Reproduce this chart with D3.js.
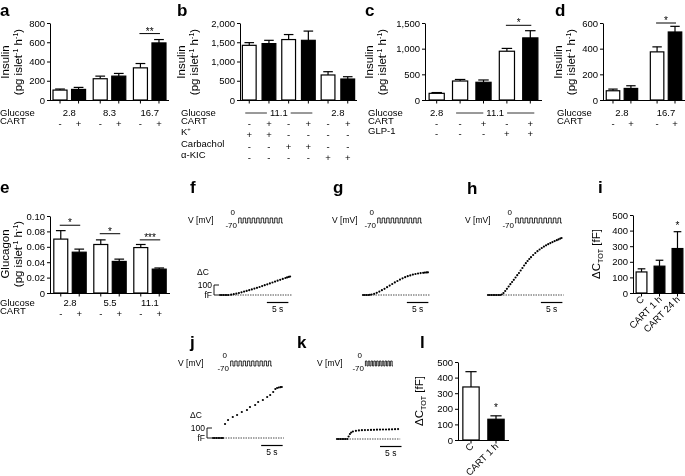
<!DOCTYPE html>
<html>
<head>
<meta charset="utf-8">
<script src="https://cdn.jsdelivr.net/npm/d3@7"></script>
<style>
  body { margin: 0; background: #fff; }
  svg { filter: grayscale(100%); }
  svg text { font-family: "Liberation Sans", Arial, Helvetica, sans-serif; fill: #000; }
</style>
</head>
<body>
<div id="chart"></div>
<script>
// ============
// Data
// ============

// a: insulin secretion, glucose x CART
var aGlucose = ["2.8", "2.8", "8.3", "8.3", "16.7", "16.7"];
var aCart = ["-", "+", "-", "+", "-", "+"];
var aInsulin = [103, 110, 221, 248, 334, 593];
var aErr = [11, 21, 27, 28, 45, 35];
var aTicks = [0, 200, 400, 600, 800];

// b: insulin with K+, carbachol, alpha-KIC
var bGlucose = ["11.1", "11.1", "11.1", "11.1", "2.8", "2.8"];
var bCart = ["-", "+", "-", "+", "-", "+"];
var bK = ["+", "+", "-", "-", "-", "-"];
var bCarbachol = ["-", "-", "+", "+", "-", "-"];
var bKic = ["-", "-", "-", "-", "+", "+"];
var bInsulin = [1420, 1465, 1570, 1550, 650, 545];
var bErr = [70, 85, 130, 240, 85, 60];
var bTicks = [0, 500, 1000, 1500, 2000];

// c: insulin with GLP-1
var cGlucose = ["2.8", "11.1", "11.1", "11.1", "11.1"];
var cCart = ["-", "-", "+", "-", "+"];
var cGlp = ["-", "-", "-", "+", "+"];
var cInsulin = [130, 370, 345, 950, 1210];
var cErr = [15, 30, 45, 55, 140];
var cTicks = [0, 500, 1000, 1500];

// d: insulin, second set
var dGlucose = ["2.8", "2.8", "16.7", "16.7"];
var dCart = ["-", "+", "-", "+"];
var dInsulin = [72, 90, 375, 530];
var dErr = [13, 21, 39, 44];
var dTicks = [0, 200, 400, 600];

// e: glucagon
var eGlucose = ["2.8", "2.8", "5.5", "5.5", "11.1", "11.1"];
var eCart = ["-", "+", "-", "+", "-", "+"];
var eGlucagon = [0.070, 0.053, 0.063, 0.041, 0.059, 0.031];
var eErr = [0.011, 0.004, 0.006, 0.003, 0.004, 0.0015];
var eTicks = [0, 0.02, 0.04, 0.06, 0.08, 0.10];

// i, l: total capacitance increase
var iLabels = ["C", "CART 1 h", "CART 24 h"];
var iCart = ["-", "+", "+"];
var iDc = [135, 172, 285];
var iErr = [20, 38, 108];
var lLabels = ["C", "CART 1 h"];
var lCart = ["-", "+"];
var lDc = [340, 133];
var lErr = [98, 22];
var dcTicks = [0, 100, 200, 300, 400, 500];

// significance bars: [first bar, last bar, value of line, stars]
var aSig = [[4, 5, 690, "**"]];
var cSig = [[3, 4, 1455, "*"]];
var dSig = [[2, 3, 600, "*"]];
var eSig = [[0, 1, 0.088, "*"], [2, 3, 0.077, "*"], [4, 5, 0.069, "***"]];
var iSig = [[2, 2, 415, "*"]];
var lSig = [[1, 1, 195, "*"]];

// capacitance traces: [time (s), dC (fF)]
var fTrace = [[0,0],[0.4,0],[0.8,0],[1.2,0],[1.6,0],[2,0],[2.6,3],[3.2,8],[3.8,14],[4.4,20],[5,27],
  [5.6,34],[6.2,41],[6.8,48],[7.4,56],[8,64],[8.6,72],[9.2,80],[9.8,89],[10.4,98],[11,107],[11.6,116],
  [12.2,125],[12.8,134],[13.4,143],[14,152],[14.6,161],[15.2,170],[15.6,176],[16,181],[16.3,185]];
var gTrace = [[0,0],[0.4,0],[0.8,0],[1.2,0],[1.6,2],[2,5],[2.6,12],[3.2,22],[3.8,34],[4.4,48],[5,62],
  [5.6,78],[6.2,94],[6.8,110],[7.4,126],[8,140],[8.6,154],[9.2,167],[9.8,178],[10.4,188],[11,196],
  [11.6,204],[12.2,210],[12.8,215],[13.4,219],[14,222],[14.4,224],[14.8,226],[15.1,227]];
var hTrace = [[0,0],[0.4,0],[0.8,0],[1.2,0],[1.6,0],[2,0],[2.4,0],[2.8,0],[3.2,5],[3.6,20],[4,40],
  [4.4,62],[4.8,85],[5.2,108],[5.6,130],[6,152],[6.4,175],[6.8,198],[7.2,220],[7.6,245],[8,270],
  [8.4,295],[8.8,318],[9.2,340],[9.6,360],[10,378],[10.5,400],[11,420],[11.5,438],[12,455],[12.5,470],
  [13,484],[13.5,497],[14,508],[14.5,519],[15,529],[15.5,539],[16,548],[16.4,556],[16.8,564],[17.1,570]];
var jTrace = [[0,0],[0.4,0],[0.8,0],[1.2,0],[1.6,0],[2,0],[2.3,0],[2.8,140],[3.5,180],[4.6,210],
  [5.6,230],[6.7,260],[7.9,280],[8.6,310],[9.8,330],[10.5,360],[11.6,380],[12.6,410],[13.3,430],
  [14,460],[14.5,490],[14.9,500],[15.3,505],[15.7,508],[16,510]];
var kTrace = [[0,0],[0.4,0],[0.8,0],[1.2,0],[1.6,0],[2,0],[2.4,0],[2.7,25],[3,50],[3.3,65],[3.7,75],
  [4.4,82],[5.1,86],[5.8,88],[6.5,89],[7.2,90],[7.9,91],[8.6,92],[9.3,93],[10,94],[10.7,95],[11.4,95],
  [12.1,96],[12.8,97],[13.5,98],[14.2,99]];
var pulseCount = 10;

// ============
// Set up
// ============
var svg = d3.select("#chart").append("svg")
  .attr("width", 685)
  .attr("height", 476);

var tickFont = 9.5;

// text with super/subscript parts: [[text, "sup"|"sub"|null], ...]
function richText(t, parts, size) {
  var prev = 0;
  parts.forEach(function(p) {
    var shift = p[1] === "sup" ? -0.38 * size : p[1] === "sub" ? 0.28 * size : 0;
    t.append("tspan")
      .attr("dy", shift - prev)
      .attr("font-size", p[1] ? size * 0.62 : size)
      .text(p[0]);
    prev = shift;
  });
}

function letter(txt, x, y) {
  svg.append("text").attr("x", x).attr("y", y)
    .attr("font-size", 17).attr("font-weight", "bold").text(txt);
}

function yLabel(lines, xs, cy, size) {
  lines.forEach(function(parts, k) {
    var t = svg.append("text")
      .attr("transform", `translate(${xs[k]}, ${cy}) rotate(-90)`)
      .attr("text-anchor", "middle")
      .attr("font-size", size);
    var t2 = t.append("tspan").attr("dy", "0.35em");
    richText(t2, parts, size);
  });
}

var insulinLabel = [[["Insulin", null]], [["(pg islet", null], ["-1", "sup"], [" h", null], ["-1", "sup"], [")", null]]];
var glucagonLabel = [[["Glucagon", null]], [["(pg islet", null], ["-1", "sup"], [" h", null], ["-1", "sup"], [")", null]]];
var dcLabel = [[["ΔC", null], ["TOT", "sub"], [" [fF]", null]]];

// ============
// Bar panels
// ============
function barPanel(p) {
  var g = svg.append("g");
  var y = d3.scaleLinear().domain([0, d3.max(p.ticks)]).range([p.y0, p.y1]);
  var centers, bw;

  if (p.glucose && p.grouped) {
    var groups = Array.from(new Set(p.glucose));
    var xg = d3.scaleBand().domain(groups).range([p.x0, p.x1])
      .paddingInner(p.pi).paddingOuter(p.po);
    var xi = d3.scaleBand().domain(["-", "+"]).range([0, xg.bandwidth()]).paddingInner(0.18);
    bw = xi.bandwidth();
    centers = p.values.map((v, i) => xg(p.glucose[i]) + xi(p.cart[i]) + bw / 2);
  } else {
    var xb = d3.scaleBand().domain(d3.range(p.values.length)).range([p.x0, p.x1])
      .paddingInner(p.pi).paddingOuter(p.po);
    bw = xb.bandwidth();
    centers = p.values.map((v, i) => xb(i) + bw / 2);
  }

  // error bars (upper whisker only)
  g.selectAll(".err").data(p.values).enter().append("line")
    .attr("x1", (d, i) => centers[i]).attr("x2", (d, i) => centers[i])
    .attr("y1", d => y(d)).attr("y2", (d, i) => y(d + p.errors[i]))
    .attr("stroke", "#000").attr("stroke-width", 1.2);
  g.selectAll(".cap").data(p.values).enter().append("line")
    .attr("x1", (d, i) => centers[i] - bw * 0.32).attr("x2", (d, i) => centers[i] + bw * 0.32)
    .attr("y1", (d, i) => y(d + p.errors[i])).attr("y2", (d, i) => y(d + p.errors[i]))
    .attr("stroke", "#000").attr("stroke-width", 1.2);

  // bars
  g.selectAll("rect").data(p.values).enter().append("rect")
    .attr("x", (d, i) => centers[i] - bw / 2 + 0.6)
    .attr("width", bw - 1.2)
    .attr("y", d => y(d))
    .attr("height", d => p.y0 - y(d))
    .attr("fill", (d, i) => p.cart[i] === "+" ? "#000" : "#fff")
    .attr("stroke", "#000").attr("stroke-width", 1.2);

  // y axis
  var yAxis = g.append("g")
    .attr("transform", `translate(${p.x0}, 0)`)
    .call(d3.axisLeft(y).tickValues(p.ticks).tickFormat(p.fmt)
      .tickSize(3).tickSizeOuter(0).tickPadding(2));
  yAxis.selectAll("text").attr("font-size", tickFont).attr("font-family", null);
  yAxis.selectAll("path, line").attr("stroke", "#000").attr("stroke-width", 1);

  // x axis line and ticks
  g.append("line").attr("x1", p.x0).attr("x2", p.x1)
    .attr("y1", p.y0 + 0.5).attr("y2", p.y0 + 0.5)
    .attr("stroke", "#000").attr("stroke-width", 1);
  g.selectAll(".xt").data(centers).enter().append("line")
    .attr("x1", d => d).attr("x2", d => d)
    .attr("y1", p.y0 + 0.5).attr("y2", p.y0 + 3.5)
    .attr("stroke", "#000").attr("stroke-width", 1);

  // significance
  (p.sig || []).forEach(function(s) {
    var ly = y(s[2]);
    if (s[0] !== s[1]) {
      g.append("line").attr("x1", centers[s[0]] - 1).attr("x2", centers[s[1]] + 1)
        .attr("y1", ly).attr("y2", ly).attr("stroke", "#000").attr("stroke-width", 1);
    }
    g.append("text").attr("x", (centers[s[0]] + centers[s[1]]) / 2).attr("y", ly + 1)
      .attr("text-anchor", "middle").attr("font-size", 10).text(s[3]);
  });

  // glucose row: runs of equal values
  if (p.glucose) {
    g.append("text").attr("x", p.rowX).attr("y", p.glucoseY).attr("dy", "0.35em")
      .attr("font-size", tickFont).text("Glucose");
    var start = 0;
    for (var i = 1; i <= p.glucose.length; i++) {
      if (i === p.glucose.length || p.glucose[i] !== p.glucose[start]) {
        var a = centers[start], b = centers[i - 1];
        var t = g.append("text").attr("x", (a + b) / 2).attr("y", p.glucoseY).attr("dy", "0.35em")
          .attr("text-anchor", "middle").attr("font-size", tickFont).text(p.glucose[start]);
        if (i - start > 2) {
          var w = t.node().getComputedTextLength();
          g.append("line").attr("x1", a - 4).attr("x2", (a + b) / 2 - w / 2 - 3)
            .attr("y1", p.glucoseY).attr("y2", p.glucoseY).attr("stroke", "#000").attr("stroke-width", 0.8);
          g.append("line").attr("x1", (a + b) / 2 + w / 2 + 3).attr("x2", b + 4)
            .attr("y1", p.glucoseY).attr("y2", p.glucoseY).attr("stroke", "#000").attr("stroke-width", 0.8);
        }
        start = i;
      }
    }
  }

  // sign rows
  (p.rows || []).forEach(function(r) {
    var lt = g.append("text").attr("x", p.rowX).attr("y", r.y).attr("dy", "0.35em")
      .attr("font-size", tickFont);
    richText(lt, r.label, tickFont);
    g.selectAll(null).data(r.signs).enter().append("text")
      .attr("x", (d, i) => centers[i]).attr("y", r.y).attr("dy", "0.35em")
      .attr("text-anchor", "middle").attr("font-size", tickFont)
      .text(d => d);
  });

  // rotated category labels
  if (p.xlabels) {
    g.selectAll(".xl").data(p.xlabels).enter().append("text")
      .attr("transform", (d, i) => `translate(${centers[i] + 3}, ${p.y0 + 7}) rotate(-45)`)
      .attr("text-anchor", "end").attr("font-size", tickFont)
      .text(d => d);
  }
}

var fmtComma = d3.format(",");
var fmtE = d => d === 0 ? "0" : d3.format(".2f")(d);

barPanel({ values: aInsulin, errors: aErr, cart: aCart, glucose: aGlucose, grouped: true,
  ticks: aTicks, fmt: fmtComma, x0: 50, x1: 169, y0: 100, y1: 23, pi: 0.16, po: 0.06,
  sig: aSig, rowX: 0, glucoseY: 113, rows: [{ label: [["CART", null]], y: 124, signs: aCart }] });

barPanel({ values: bInsulin, errors: bErr, cart: bCart, glucose: bGlucose, grouped: false,
  ticks: bTicks, fmt: fmtComma, x0: 240, x1: 357, y0: 100, y1: 23, pi: 0.24, po: 0.09,
  rowX: 181, glucoseY: 113,
  rows: [{ label: [["CART", null]], y: 123.5, signs: bCart },
         { label: [["K", null], ["+", "sup"]], y: 135, signs: bK },
         { label: [["Carbachol", null]], y: 146.5, signs: bCarbachol },
         { label: [["α-KIC", null]], y: 158, signs: bKic }] });

barPanel({ values: cInsulin, errors: cErr, cart: cCart, glucose: cGlucose, grouped: false,
  ticks: cTicks, fmt: fmtComma, x0: 425, x1: 542, y0: 100, y1: 23, pi: 0.3, po: 0.15,
  sig: cSig, rowX: 368, glucoseY: 113,
  rows: [{ label: [["CART", null]], y: 123.5, signs: cCart },
         { label: [["GLP-1", null]], y: 134, signs: cGlp }] });

barPanel({ values: dInsulin, errors: dErr, cart: dCart, glucose: dGlucose, grouped: true,
  ticks: dTicks, fmt: fmtComma, x0: 603, x1: 685, y0: 100, y1: 23, pi: 0.26, po: 0.06,
  sig: dSig, rowX: 557, glucoseY: 113, rows: [{ label: [["CART", null]], y: 124, signs: dCart }] });

barPanel({ values: eGlucagon, errors: eErr, cart: eCart, glucose: eGlucose, grouped: true,
  ticks: eTicks, fmt: fmtE, x0: 50, x1: 170, y0: 293, y1: 216, pi: 0.16, po: 0.08,
  sig: eSig, rowX: 0, glucoseY: 303, rows: [{ label: [["CART", null]], y: 314, signs: eCart }] });

barPanel({ values: iDc, errors: iErr, cart: iCart, grouped: false,
  ticks: dcTicks, fmt: fmtComma, x0: 633, x1: 686, y0: 293, y1: 215, pi: 0.333, po: 0.14,
  sig: iSig, xlabels: iLabels });

barPanel({ values: lDc, errors: lErr, cart: lCart, grouped: false,
  ticks: dcTicks, fmt: fmtComma, x0: 458, x1: 509, y0: 440, y1: 362, pi: 0.3, po: 0.17,
  sig: lSig, xlabels: lLabels });

yLabel(insulinLabel, [9, 22], 62, 11.5);
yLabel(insulinLabel, [185, 198], 62, 11.5);
yLabel(insulinLabel, [373, 386], 62, 11.5);
yLabel(insulinLabel, [562, 575], 62, 11.5);
yLabel(glucagonLabel, [9, 22], 254, 11.5);
yLabel(dcLabel, [600], 254, 11.5);
yLabel(dcLabel, [423], 401, 11.5);

// ============
// Capacitance traces
// ============
var pxPerSec = 4.3;   // 5 s scale bar is ~21.5 px
var pxPerFf = 0.1;    // 100 fF is 10 px

function tracePanel(p) {
  var g = svg.append("g");
  var t = d3.scaleLinear().domain([0, 1]).range([p.tx, p.tx + pxPerSec]);
  var c = d3.scaleLinear().domain([0, 1]).range([p.base, p.base - pxPerFf]);
  var v = d3.scaleLinear().domain([-70, 0]).range([p.vy + 2.5, p.vy - 2.5]);
  var pulse = d3.scaleLinear().domain([0, pulseCount]).range([p.px0, p.px1]);

  // voltage protocol
  g.append("text").attr("x", p.vx).attr("y", p.vy).attr("dy", "0.35em")
    .attr("font-size", 8.5).text("V [mV]");
  g.append("text").attr("x", p.px0 - 3).attr("y", v(0) - 6).attr("dy", "0.35em")
    .attr("text-anchor", "end").attr("font-size", 8).text("0");
  g.append("text").attr("x", p.px0 - 1).attr("y", v(-70) + 2).attr("dy", "0.35em")
    .attr("text-anchor", "end").attr("font-size", 8).text("-70");
  var pts = [];
  d3.range(pulseCount).forEach(function(k) {
    pts.push([pulse(k), v(-70)], [pulse(k + 0.15), v(-70)], [pulse(k + 0.15), v(0)],
             [pulse(k + 0.7), v(0)], [pulse(k + 0.7), v(-70)]);
  });
  pts.push([pulse(pulseCount), v(-70)]);
  g.append("path").attr("d", d3.line()(pts))
    .attr("fill", "none").attr("stroke", "#000").attr("stroke-width", 0.8);

  // baseline
  var tEnd = p.data[p.data.length - 1][0] + 0.5;
  g.append("line").attr("x1", t(0)).attr("x2", t(tEnd))
    .attr("y1", p.base).attr("y2", p.base)
    .attr("stroke", "#000").attr("stroke-width", 0.7).attr("stroke-dasharray", "1.5,1");

  // dots
  g.selectAll("circle").data(p.data).enter().append("circle")
    .attr("cx", d => t(d[0])).attr("cy", d => c(d[1]))
    .attr("r", 1.1).attr("fill", "#000");

  // time scale bar
  g.append("line").attr("x1", t(p.bar)).attr("x2", t(p.bar + 5))
    .attr("y1", p.base + 7.5).attr("y2", p.base + 7.5)
    .attr("stroke", "#000").attr("stroke-width", 1.2);
  g.append("text").attr("x", t(p.bar + 2.5)).attr("y", p.base + 14.5).attr("dy", "0.35em")
    .attr("text-anchor", "middle").attr("font-size", 8.5).text("5 s");

  // capacitance scale
  if (p.bx) {
    g.append("path")
      .attr("d", d3.line()([[p.bx + 5, c(100)], [p.bx, c(100)], [p.bx, c(0)], [p.bx + 5, c(0)]]))
      .attr("fill", "none").attr("stroke", "#000").attr("stroke-width", 0.9);
    g.append("text").attr("x", p.bx - 2).attr("y", c(100)).attr("dy", "0.35em")
      .attr("text-anchor", "end").attr("font-size", 8.5).text("100");
    g.append("text").attr("x", p.bx - 2).attr("y", c(0)).attr("dy", "0.35em")
      .attr("text-anchor", "end").attr("font-size", 8.5).text("fF");
    g.append("text").attr("x", p.bx - 17).attr("y", c(230)).attr("dy", "0.35em")
      .attr("font-size", 8.5).text("ΔC");
  }
}

tracePanel({ data: fTrace, vx: 188, vy: 220.5, px0: 238, px1: 283, tx: 220, base: 295, bar: 10.9, bx: 214 });
tracePanel({ data: gTrace, vx: 332, vy: 220.5, px0: 377, px1: 422, tx: 363, base: 295, bar: 10.2 });
tracePanel({ data: hTrace, vx: 465, vy: 220.5, px0: 515, px1: 562, tx: 488, base: 295, bar: 12.3 });
tracePanel({ data: jTrace, vx: 178, vy: 363.5, px0: 230, px1: 272, tx: 213, base: 438, bar: 11.2, bx: 207 });
tracePanel({ data: kTrace, vx: 317, vy: 363.5, px0: 365, px1: 393, tx: 337, base: 439, bar: 10 });

// panel letters
letter("a", 0, 16);
letter("b", 177, 16);
letter("c", 365, 16);
letter("d", 555, 16);
letter("e", 0, 193);
letter("f", 190, 193);
letter("g", 333, 193);
letter("h", 467, 194);
letter("i", 598, 193);
letter("j", 190, 348);
letter("k", 297, 348);
letter("l", 420, 348);
</script>
</body>
</html>
